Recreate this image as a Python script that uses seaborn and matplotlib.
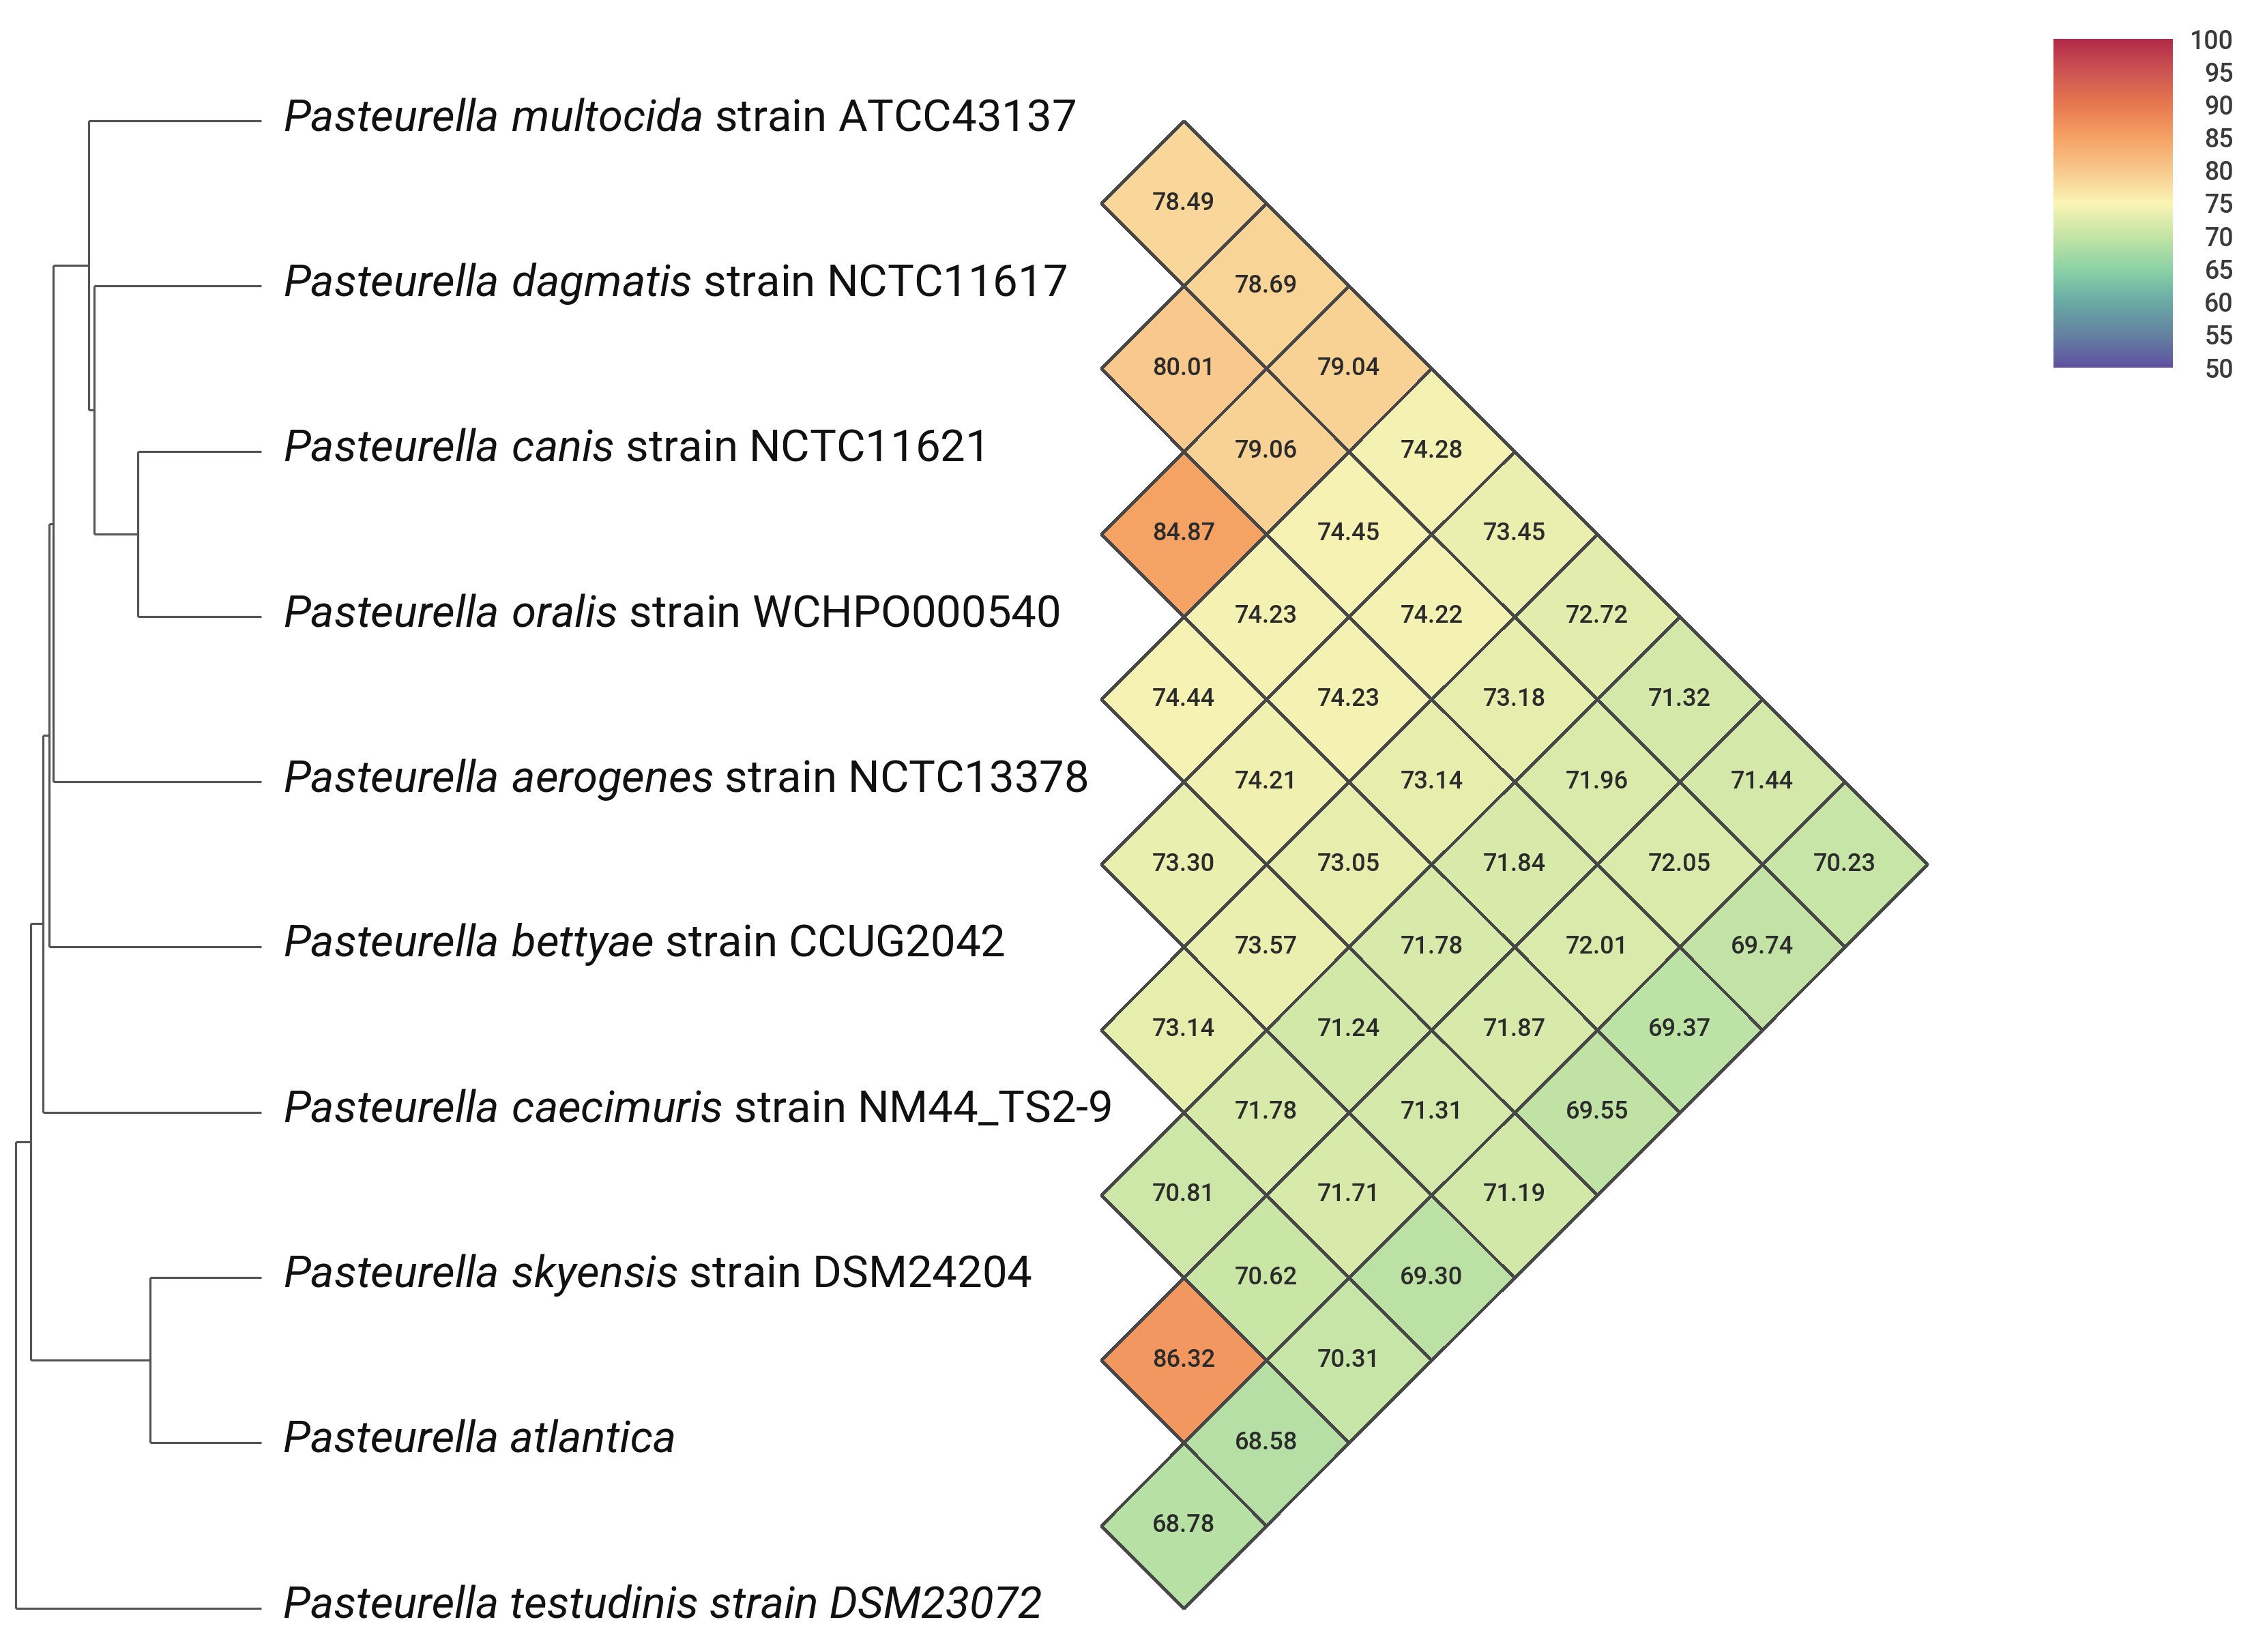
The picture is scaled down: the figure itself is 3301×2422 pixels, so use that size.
import numpy as np
import pandas as pd
import matplotlib
matplotlib.use('Agg')
import matplotlib.pyplot as plt
import matplotlib.colors as mcolors
import matplotlib.transforms as mtransforms
import seaborn as sns

# ================= data =================
italic_part = ['Pasteurella multocida', 'Pasteurella dagmatis', 'Pasteurella canis',
               'Pasteurella oralis', 'Pasteurella aerogenes', 'Pasteurella bettyae',
               'Pasteurella caecimuris', 'Pasteurella skyensis', 'Pasteurella atlantica',
               'Pasteurella testudinis strain DSM23072']
strain_part = ['strain ATCC43137', 'strain NCTC11617', 'strain NCTC11621', 'strain WCHPO000540',
               'strain NCTC13378', 'strain CCUG2042', 'strain NM44_TS2-9', 'strain DSM24204', '', '']

# pairwise ANI (%), listed by diagonal: ani_dk[i] = ANI(species i, species i+k)
ani_d1 = [78.49, 80.01, 84.87, 74.44, 73.30, 73.14, 70.81, 86.32, 68.78]
ani_d2 = [78.69, 79.06, 74.23, 74.21, 73.57, 71.78, 70.62, 68.58]
ani_d3 = [79.04, 74.45, 74.23, 73.05, 71.24, 71.71, 70.31]
ani_d4 = [74.28, 74.22, 73.14, 71.78, 71.31, 69.30]
ani_d5 = [73.45, 73.18, 71.84, 71.87, 71.19]
ani_d6 = [72.72, 71.96, 72.01, 69.55]
ani_d7 = [71.32, 72.05, 69.37]
ani_d8 = [71.44, 69.74]
ani_d9 = [70.23]

# tree: node -> (node depth in px from left, children); ints are leaves
tree_nodes = {
    'A': (202, [2, 3]),
    'B': (138, [1, 'A']),
    'C': (130, [0, 'B']),
    'D': (78, ['C', 4]),
    'E': (72, ['D', 5]),
    'F': (63, ['E', 6]),
    'H': (220, [7, 8]),
    'G': (45, ['F', 'H']),
    'root': (23, ['G', 9]),
}
LEAF_X = 383

# colour scale as seen on the colour bar (50 -> 100)
scale_colors = ['#5f50a0', '#6482a0', '#69aaa5', '#8cd2a5', '#c4e4a5', '#faf4b4',
                '#f8c88c', '#f5a264', '#e67850', '#cd5552', '#b22a48']
ani_cmap = mcolors.LinearSegmentedColormap.from_list('ani_spectral', scale_colors)

# ================= style =================
sns.set_style('white')
plt.rcParams['font.family'] = ['Roboto', 'DejaVu Sans']
plt.rcParams['mathtext.fontset'] = 'custom'
plt.rcParams['mathtext.it'] = 'Roboto:italic'
plt.rcParams['mathtext.rm'] = 'Roboto'

W, H = 3301, 2422
U = 242.3          # px per species row
Y0 = 177           # px of first species line
fig = plt.figure(figsize=(W / 100, H / 100), dpi=100)
fig.patch.set_facecolor('white')
ax = fig.add_axes([0, 0, 1, 1])

n = len(italic_part)
names = [f'{a} {b}'.strip() for a, b in zip(italic_part, strain_part)]
mat = np.full((n, n), np.nan)
for k, diag in enumerate([ani_d1, ani_d2, ani_d3, ani_d4, ani_d5, ani_d6, ani_d7, ani_d8, ani_d9], start=1):
    for i, v in enumerate(diag):
        mat[i, i + k] = v
df = pd.DataFrame(mat, index=names, columns=names)
mask = df.isna()

# ================= rotated heatmap =================
EDGE = '#474747'
cax = fig.add_axes([3010 / W, 1 - 539 / H, 175 / W, 482 / H])
sns.heatmap(df, ax=ax, mask=mask, cmap=ani_cmap, vmin=50, vmax=100,
            annot=True, fmt='.2f', linewidths=2.2, linecolor=EDGE,
            annot_kws={'fontsize': 26, 'color': '#2b2b2b', 'fontweight': 'medium'},
            cbar_ax=cax, cbar_kws={'ticks': list(range(50, 101, 5))})

mesh = ax.collections[0]
# no outline for the empty (masked) half
ec = np.tile(mcolors.to_rgba(EDGE), (mask.size, 1))
ec[mask.values.ravel()] = (0, 0, 0, 0)
mesh.set_edgecolor(ec)

# cell (col u, row v) -> diamond in species units
x0 = 1735 / U - 0.5
cell_tr = mtransforms.Affine2D(np.array([[0.5, -0.5, x0], [0.5, 0.5, -0.5], [0, 0, 1]]))
mesh.set_transform(cell_tr + ax.transData)
for t in ax.texts:
    t.set_transform(cell_tr + ax.transData)

cax.tick_params(length=0, labelsize=27, pad=64, labelcolor='#3a3a3a')
for lbl in cax.get_yticklabels():
    lbl.set_horizontalalignment('right')
    lbl.set_fontweight('medium')
mesh.colorbar.outline.set_visible(False)

# ================= tree =================
node_y = {}


def get_y(node):
    if isinstance(node, int):
        return node
    if node not in node_y:
        ch = tree_nodes[node][1]
        node_y[node] = (get_y(ch[0]) + get_y(ch[-1])) / 2
    return node_y[node]


tree_kw = dict(color='#555555', lw=2.3, solid_capstyle='butt')
for name, (nx, children) in tree_nodes.items():
    ys = [get_y(c) for c in children]
    ax.plot([nx / U, nx / U], [min(ys), max(ys)], **tree_kw)
    for c in children:
        cx = LEAF_X if isinstance(c, int) else tree_nodes[c][0]
        ax.plot([nx / U, cx / U], [get_y(c), get_y(c)], **tree_kw)

# ================= labels =================
for i in range(n):
    if strain_part[i]:
        it = italic_part[i].replace(' ', r'\ ')
        label = rf'$\mathit{{{it}}}$ ' + strain_part[i]
        style = 'normal'
    else:
        label = italic_part[i]
        style = 'italic'
    ax.text(415 / U, i - 0.015, label, fontsize=47, fontstyle=style,
            va='center', ha='left', color='#111111')

ax.set_xlim(0, W / U)
ax.set_ylim((H - Y0) / U, -Y0 / U)
ax.axis('off')

fig.savefig('out.png', dpi=100, facecolor='white')
